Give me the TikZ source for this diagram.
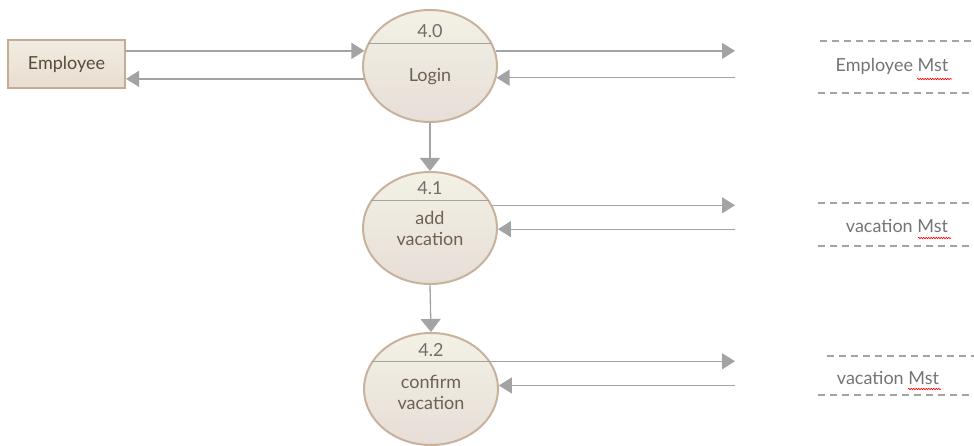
\documentclass[tikz,border=0pt]{standalone}
\usepackage{fontspec}
\setmainfont{Lato}
\usetikzlibrary{shapes.geometric,arrows.meta,calc,decorations.pathmorphing}
\definecolor{flowgray}{HTML}{A3A3A3}
\definecolor{procedge}{HTML}{C8B29C}
\definecolor{proctop}{HTML}{F3F1E6}
\definecolor{procbot}{HTML}{E6DED7}
\definecolor{enttop}{HTML}{F1ECE2}
\definecolor{entbot}{HTML}{E8DED0}
\definecolor{entedge}{HTML}{C6AC92}
\definecolor{enttext}{HTML}{5C4B3B}
\definecolor{proctext}{HTML}{6F6054}
\definecolor{numtext}{HTML}{6E6E6E}
\definecolor{storetext}{HTML}{747474}
\tikzset{
	entity/.style={draw=entedge,line width=2pt,top color=enttop,bottom color=entbot,
		minimum width=117pt,minimum height=48pt,inner sep=0pt},
	process/.style={ellipse,draw=procedge,line width=2pt,top color=proctop,bottom color=procbot,
		minimum width=134pt,minimum height=112pt,inner sep=0pt},
	txt/.style={font=\fontsize{18}{21}\selectfont,align=center,inner sep=0pt},
	divider/.style={draw=flowgray,line width=1.5pt},
	flow/.style={draw=flowgray,line width=1.3pt,-{Triangle[length=13pt,width=16pt]}},
	downflow/.style={flow,-{Triangle[length=13pt,width=20pt]}},
	storeline/.style={draw=flowgray,line width=1.3pt,dash pattern=on 7pt off 5pt},
	typo/.style={red,line width=0.6pt,decorate,decoration={snake,amplitude=0.7pt,segment length=2.5pt}}
}
\begin{document}
\begin{tikzpicture}[x=1pt,y=-1pt]
	\useasboundingbox (0,0) rectangle (974,446);
	% external entity
	\node[entity] (emp) at (66.5,64) {};
	\node[txt,text=enttext] (empt) at (emp) {Employee};
	% processes
	\node[process] (p40) at (430,66) {};
	\draw[divider] (p40.160) -- (p40.20);
	\node[txt,text=numtext] (n40) at (430,31) {4.0};
	\node[txt,text=proctext] (t40) at (430,77) {Login};
	\node[process] (p41) at (430,228) {};
	\draw[divider] (p41.155) -- (p41.25);
	\node[txt,text=numtext] (n41) at (430,188) {4.1};
	\node[txt,text=proctext] (t41) at (430,228) {add\\vacation};
	\node[process] (p42) at (431,389) {};
	\draw[divider] (p42.155) -- (p42.25);
	\node[txt,text=numtext] (n42) at (431,350) {4.2};
	\node[txt,text=proctext] (t42) at (431,392) {confirm\\vacation};
	% data stores
	\node[txt,text=storetext] (st1) at (892,66) {Employee Mst};
	\draw[storeline] (820,41) -- (974,41);
	\draw[storeline] (818,93) -- (974,93);
	\draw[typo] (917,79) -- (952,79);
	\node[txt,text=storetext] (st2) at (897,226) {vacation Mst};
	\draw[storeline] (818,203) -- (974,203);
	\draw[storeline] (818,246) -- (974,246);
	\draw[typo] (918,238) -- (951,238);
	\node[txt,text=storetext] (st3) at (888,378) {vacation Mst};
	\draw[storeline] (827,356) -- (974,356);
	\draw[storeline] (818,395) -- (974,395);
	\draw[typo] (908,389) -- (941,389);
	% free ends towards the stores
	\coordinate (s40) at (735,66);
	\coordinate (s41) at (735,228);
	\coordinate (s42) at (735,389);
	% flows
	\draw[flow] (emp.east |- p40.167) -- (p40.167);
	\draw[flow] (p40.191) -- (emp.east |- p40.191);
	\draw[flow] (p40.13) -- (s40 |- p40.13);
	\draw[flow] (s40 |- p40.350) -- (p40.350);
	\draw[downflow] (p40.south) -- (p41.north);
	\draw[flow] (p41.20) -- (s41 |- p41.20);
	\draw[flow] (s41 |- p41.359) -- (p41.359);
	\draw[downflow] (p41.south) -- (p42.north);
	\draw[flow] (p42.25) -- (s42 |- p42.25);
	\draw[flow] (s42 |- p42.3) -- (p42.3);
\end{tikzpicture}
\end{document}
